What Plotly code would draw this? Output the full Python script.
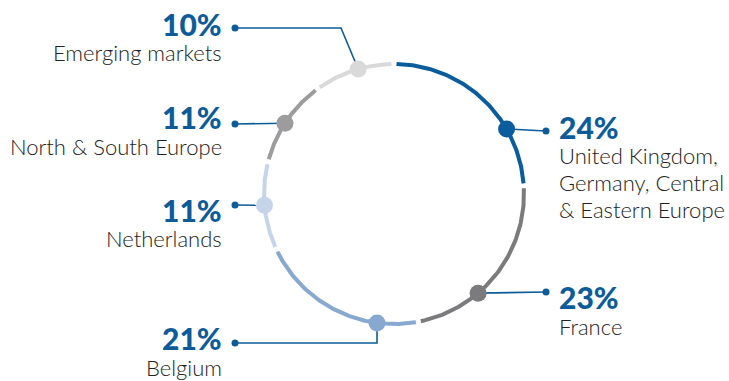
import math
import plotly.graph_objects as go

# ---- data ----
categories = [["United Kingdom,", "Germany, Central", "& Eastern Europe"], ["France"], ["Belgium"],
              ["Netherlands"], ["North & South Europe"], ["Emerging markets"]]
shares = [24, 23, 21, 11, 11, 10]
pct_labels = ["24%", "23%", "21%", "11%", "11%", "10%"]

# ---- styling / layout ----
seg_colors = ["#0b5c9c", "#7b7b7d", "#87a9d0", "#c6d4ea", "#9c9c9e", "#d9d9d9"]
dot_angles = [60, 139.7, 187.5, 265, 303, 344]      # marker position on each arc (deg, clockwise from 12 o'clock)
label_side = ["r", "r", "l", "l", "l", "l"]
leader_y = [131, 292, 343, 205, 124, 28]
pct_y = [128, 297.5, 338.5, 211, 118, 24.7]
cat_y = [[157.5, 184.5, 211], [328], [369], [240], [148], [54]]
elbow = [None, None, "belgium", None, None, "emerging"]

W, H = 729, 381
cx, cy, R = 394, 194, 130
gap = 2.2
blue = "#0d5c99"
textc = "#222222"

def pt(a):
    r = math.radians(a)
    return cx + R * math.sin(r), cy - R * math.cos(r)

fig = go.Figure()
cum = 0
for v, c in zip(shares, seg_colors):
    a0 = cum * 3.6 + gap / 2
    a1 = (cum + v) * 3.6 - gap / 2
    n = 120
    xs, ys = [], []
    for k in range(n + 1):
        x, y = pt(a0 + (a1 - a0) * k / n)
        xs.append(x); ys.append(y)
    fig.add_trace(go.Scatter(x=xs, y=ys, mode="lines", line=dict(color=c, width=4),
                             hoverinfo="skip", showlegend=False))
    cum += v

annotations = []
for i, (cat, pl, c) in enumerate(zip(categories, pct_labels, seg_colors)):
    dx, dy = pt(dot_angles[i])
    ly = leader_y[i]
    lx = 235 if label_side[i] == "l" else 546
    if elbow[i] == "emerging":
        lxs, lys = [lx, 341, dx], [ly, ly, dy]
    elif elbow[i] == "belgium":
        lxs, lys = [lx, dx, dx], [ly, ly, dy]
    else:
        lxs, lys = [lx, dx], [ly, dy]
    fig.add_trace(go.Scatter(x=lxs, y=lys, mode="lines", line=dict(color=blue, width=1.6),
                             hoverinfo="skip", showlegend=False))
    fig.add_trace(go.Scatter(x=[lx], y=[ly], mode="markers", marker=dict(color=blue, size=7),
                             hoverinfo="skip", showlegend=False))
    fig.add_trace(go.Scatter(x=[dx], y=[dy], mode="markers", marker=dict(color=c, size=17),
                             hoverinfo="skip", showlegend=False))

    if label_side[i] == "l":
        tx, anchor = 224, "right"
    else:
        tx, anchor = 557, "left"
    annotations.append(dict(x=tx, y=pct_y[i] - 1, xref="x", yref="y", text=pl, showarrow=False,
                            xanchor=anchor, yanchor="middle", align=anchor,
                            font=dict(family="Lato", size=30, color=blue, weight=900)))
    for line, y in zip(cat, cat_y[i]):
        annotations.append(dict(x=tx, y=y - 2, xref="x", yref="y", text=line, showarrow=False,
                                xanchor=anchor, yanchor="middle", align=anchor,
                                font=dict(family="Lato", size=22, color=textc, weight=300)))

fig.update_layout(
    width=W, height=H, margin=dict(l=0, r=0, t=0, b=0),
    paper_bgcolor="white", plot_bgcolor="white",
    xaxis=dict(range=[0, W], visible=False, fixedrange=True),
    yaxis=dict(range=[H, 0], visible=False, fixedrange=True),
    annotations=annotations,
)
fig.write_html("out.html")
